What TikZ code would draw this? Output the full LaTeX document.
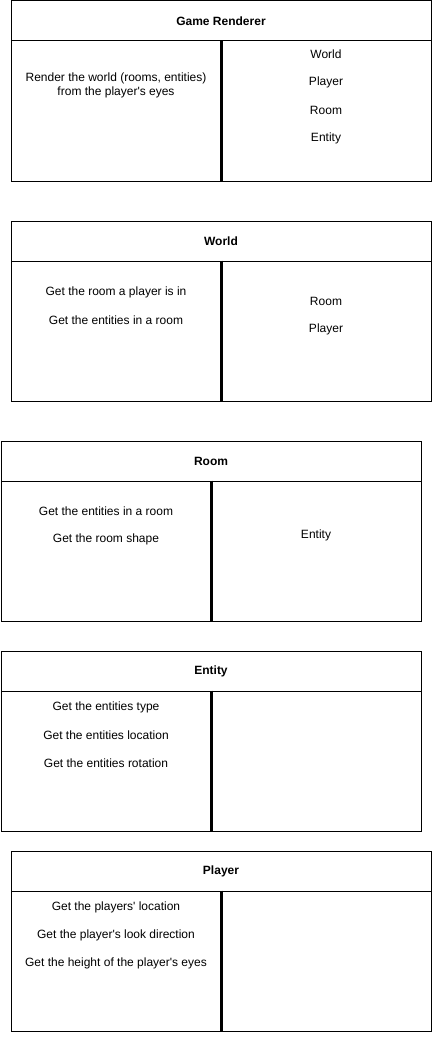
\documentclass[tikz,border=0pt]{standalone}
\usepackage{fontspec}
\setmainfont{Liberation Sans}
\newcommand{\apos}{\textquotesingle}
\begin{document}
\begin{tikzpicture}[x=1pt,y=-1pt,
  every node/.style={font=\fontsize{12}{14}\selectfont, inner sep=0pt},
  hdr/.style={draw=black, line width=1pt, minimum width=420pt, minimum height=40pt, font=\fontsize{12}{14}\selectfont\bfseries},
  bodybox/.style={draw=black, line width=1pt, minimum width=420pt, minimum height=140pt},
  divider/.style={draw=black, line width=3pt},
  txt/.style={align=center}]
\useasboundingbox (0,0) rectangle (433,1038);

% Game Renderer card
\node[hdr] (grh) at (221,21) {Game Renderer};
\node[bodybox] (grb) at (221,111) {};
\draw[divider] (grb.north) -- (grb.south);
\node[txt] (gr1) at (116,85) {Render the world (rooms, entities)\\from the player\apos s eyes};
\node (gr2) at (326,54) {World};
\node (gr3) at (326,82) {Player};
\node (gr4) at (326,110) {Room};
\node (gr5) at (326,138) {Entity};

% World card
\node[hdr] (wh) at (221,241) {World};
\node[bodybox] (wb) at (221,331) {};
\draw[divider] (wb.north) -- (wb.south);
\node (w1) at (116,292) {Get the room a player is in};
\node (w2) at (116,320) {Get the entities in a room};
\node (w3) at (326,301) {Room};
\node (w4) at (326,329) {Player};

% Room card
\node[hdr] (rh) at (211,461) {Room};
\node[bodybox] (rb) at (211,551) {};
\draw[divider] (rb.north) -- (rb.south);
\node (r1) at (106,511) {Get the entities in a room};
\node (r2) at (106,539) {Get the room shape};
\node (r3) at (316,535) {Entity};

% Entity card
\node[hdr] (eh) at (211,671) {Entity};
\node[bodybox] (eb) at (211,761) {};
\draw[divider] (eb.north) -- (eb.south);
\node (e1) at (106,707) {Get the entities type};
\node (e2) at (106,735) {Get the entities location};
\node (e3) at (106,763) {Get the entities rotation};

% Player card
\node[hdr] (ph) at (221,871) {Player};
\node[bodybox] (pb) at (221,961) {};
\draw[divider] (pb.north) -- (pb.south);
\node (p1) at (116,907) {Get the players\apos{} location};
\node (p2) at (116,935) {Get the player\apos s look direction};
\node (p3) at (116,963) {Get the height of the player\apos s eyes};
\end{tikzpicture}
\end{document}
